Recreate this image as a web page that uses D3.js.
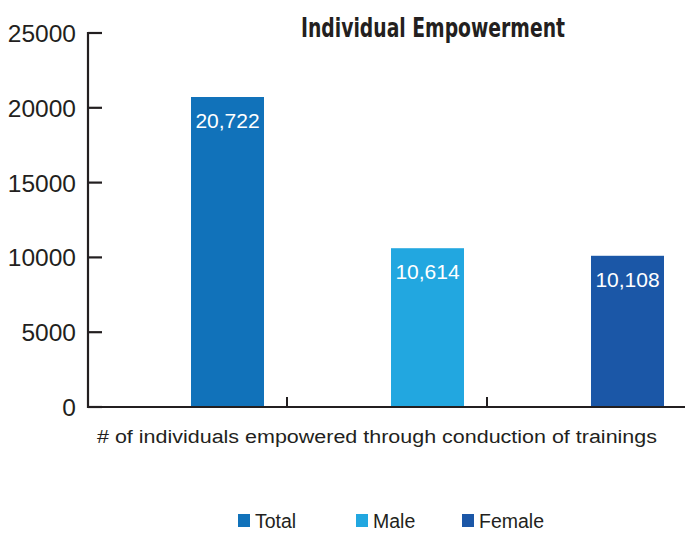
<!DOCTYPE html>
<html><head><meta charset="utf-8">
<script src="https://cdn.jsdelivr.net/npm/d3@7"></script>
<style>body{margin:0;background:#fff}svg{display:block}</style>
</head><body>
<svg id="c" width="685" height="533"></svg>
<script>
const categories = ["Total", "Male", "Female"];
const values = [20722, 10614, 10108];
const valueLabels = ["20,722", "10,614", "10,108"];
const yTicks = [0, 5000, 10000, 15000, 20000, 25000];
const colors = ["#1172BA", "#22A7E0", "#1B57A7"];
const title = "Individual Empowerment";
const xTitle = "# of individuals empowered through conduction of trainings";

(function () {
const svg = d3.select("#c");
const mLeft = 88, mRight = 688, mTop = 33, mBottom = 407;
const x = d3.scaleBand().domain(categories).range([mLeft, mRight]);
const y = d3.scaleLinear().domain([0, 25000]).range([mBottom, mTop]);
const bw = x.bandwidth();
const font = "'Liberation Sans', Arial, sans-serif";

// bars
svg.selectAll("rect.bar").data(categories).enter().append("rect")
  .attr("x", d => x(d) + bw * 0.515)
  .attr("width", bw * 0.365)
  .attr("y", (d, i) => y(values[i]))
  .attr("height", (d, i) => mBottom - y(values[i]))
  .attr("fill", (d, i) => colors[i]);

svg.selectAll("text.vl").data(categories).enter().append("text")
  .attr("x", d => x(d) + bw * 0.515 + bw * 0.365 / 2)
  .attr("y", (d, i) => y(values[i]) + 31)
  .attr("text-anchor", "middle")
  .attr("fill", "#fff")
  .style("font-family", font).style("font-size", "21px")
  .text((d, i) => valueLabels[i]);

// y axis
const ax = "#231f20";
svg.append("line").attr("x1", mLeft).attr("x2", mLeft).attr("y1", mTop - 1).attr("y2", mBottom + 1)
  .attr("stroke", ax).attr("stroke-width", 2.2);
svg.selectAll("line.yt").data(yTicks).enter().append("line")
  .attr("x1", mLeft).attr("x2", mLeft + 14)
  .attr("y1", d => y(d)).attr("y2", d => y(d))
  .attr("stroke", ax).attr("stroke-width", 2.2);
svg.selectAll("text.yl").data(yTicks).enter().append("text")
  .attr("x", 76).attr("y", d => y(d) + 9)
  .attr("text-anchor", "end").attr("fill", "#231f20")
  .style("font-family", font).style("font-size", "24.5px")
  .text(d => d);

// x axis
svg.append("line").attr("x1", mLeft).attr("x2", 685).attr("y1", mBottom).attr("y2", mBottom)
  .attr("stroke", ax).attr("stroke-width", 2.2);
svg.selectAll("line.xt").data(categories.slice(1)).enter().append("line")
  .attr("x1", d => x(d) - 1).attr("x2", d => x(d) - 1)
  .attr("y1", mBottom).attr("y2", mBottom - 10)
  .attr("stroke", ax).attr("stroke-width", 2);

svg.append("text").attr("x", 377).attr("y", 443).attr("text-anchor", "middle")
  .attr("fill", "#231f20").style("font-family", font).style("font-size", "18px")
  .attr("textLength", 560).attr("lengthAdjust", "spacingAndGlyphs")
  .text(xTitle);

// title
svg.append("text").attr("x", 433).attr("y", 37).attr("text-anchor", "middle")
  .attr("fill", "#231f20").style("font-family", "'Liberation Sans Narrow', 'DejaVu Sans Condensed', sans-serif")
  .style("font-size", "27px").style("font-weight", "bold")
  .attr("textLength", 264).attr("lengthAdjust", "spacingAndGlyphs")
  .text(title);

// legend
const legX = [238, 356, 462];
const lg = svg.selectAll("g.lg").data(categories).enter().append("g")
  .attr("transform", (d, i) => `translate(${legX[i]},514)`);
lg.append("rect").attr("width", 12).attr("height", 13).attr("fill", (d, i) => colors[i]);
lg.append("text").attr("x", 17).attr("y", 14).attr("fill", "#231f20")
  .style("font-family", font).style("font-size", "19.5px").text(d => d);
})();
</script>
</body></html>
